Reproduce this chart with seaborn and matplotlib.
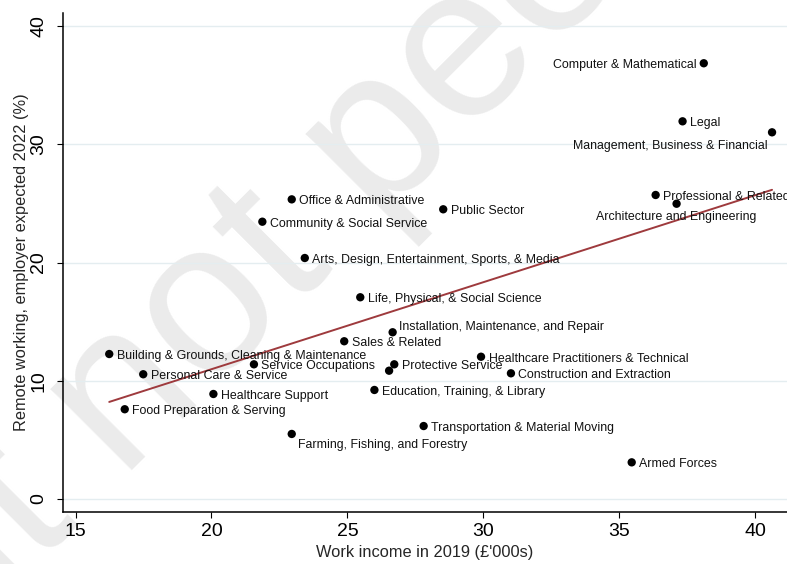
import numpy as np
import pandas as pd
import matplotlib
matplotlib.use("Agg")
import matplotlib.pyplot as plt
import seaborn as sns

# Occupation groups: average work income in 2019 (£'000s) and the share of
# remote working employers expected in 2022 (%)
occupations = [
    "Computer & Mathematical",
    "Legal",
    "Management, Business & Financial",
    "Professional & Related",
    "Architecture and Engineering",
    "Office & Administrative",
    "Public Sector",
    "Community & Social Service",
    "Arts, Design, Entertainment, Sports, & Media",
    "Life, Physical, & Social Science",
    "Installation, Maintenance, and Repair",
    "Sales & Related",
    "Building & Grounds, Cleaning & Maintenance",
    "Service Occupations",
    "Protective Service",
    "",
    "Healthcare Practitioners & Technical",
    "Construction and Extraction",
    "Education, Training, & Library",
    "Transportation & Material Moving",
    "Personal Care & Service",
    "Healthcare Support",
    "Food Preparation & Serving",
    "Farming, Fishing, and Forestry",
    "Armed Forces",
]
income_2019 = [
    38.10, 37.32, 40.61, 36.33, 37.10, 22.95, 28.52, 21.87, 23.43, 25.47,
    26.66, 24.88, 16.24, 21.56, 26.72, 26.53, 29.91, 31.01, 25.99, 27.80,
    17.49, 20.07, 16.81, 22.95, 35.45,
]
remote_2022 = [
    36.85, 31.94, 31.01, 25.71, 24.97, 25.34, 24.50, 23.45, 20.38, 17.06,
    14.10, 13.34, 12.26, 11.39, 11.39, 10.85, 12.03, 10.63, 9.22, 6.17,
    10.55, 8.88, 7.59, 5.50, 3.10,
]

x_ticks = [15, 20, 25, 30, 35, 40]
y_ticks = [0, 10, 20, 30, 40]

# where each marker label sits relative to its point (default: right)
label_side = {
    "Computer & Mathematical": "left",
    "Management, Business & Financial": "below_left",
    "Architecture and Engineering": "below",
    "Installation, Maintenance, and Repair": "upper_right",
    "Farming, Fishing, and Forestry": "lower_right",
}
side_offsets = {
    "right": ((5.4, 0.0), "left"),
    "left": ((-5.5, 0.0), "right"),
    "below_left": ((-2.9, -8.6), "right"),
    "below": ((0.0, -8.6), "center"),
    "upper_right": ((4.7, 5.2), "left"),
    "lower_right": ((4.7, -6.7), "left"),
}
label_drop = -1.3  # nudges label text onto the marker's centre line

sns.set_theme(style="ticks")
plt.rcParams["font.family"] = ["Liberation Sans", "DejaVu Sans"]

df = pd.DataFrame({"occupation": occupations,
                   "income": income_2019,
                   "remote": remote_2022})

W, H = 787, 564
fig = plt.figure(figsize=(W / 100, H / 100), dpi=100)
fig.patch.set_facecolor("white")

# faint diagonal watermark behind the plot
fig.text(402 / W, 1 - 121 / H, "Preprint not peer reviewed",
         fontsize=156, color="#ebebeb", rotation=45,
         ha="center", va="center", rotation_mode="anchor",
         fontweight="normal", zorder=-5)

ax = fig.add_axes([63 / W, 52 / H, (W - 63) / W, (512 - 13) / H])
ax.set_facecolor("none")

sns.regplot(data=df, x="income", y="remote", scatter=False, ci=None,
            ax=ax, line_kws=dict(color="#9e3a3d", lw=1.4, zorder=2))
sns.scatterplot(data=df, x="income", y="remote", ax=ax, color="black",
                s=36, edgecolor="none", zorder=3, legend=False)

for name, xv, yv in zip(occupations, income_2019, remote_2022):
    if not name:
        continue
    (dx, dy), ha = side_offsets[label_side.get(name, "right")]
    ax.annotate(name, (xv, yv), xytext=(dx, dy + label_drop),
                textcoords="offset points",
                ha=ha, va="center", fontsize=8.9, color="#111111",
                annotation_clip=False, zorder=4)

ax.set_xlim(14.54, 41.16)
ax.set_ylim(-1.10, 41.10)
ax.set_xticks(x_ticks)
ax.set_yticks(y_ticks)
ax.set_xticklabels([str(t) for t in x_ticks])
ax.set_yticklabels([str(t) for t in y_ticks], rotation=90, va="center")

ax.yaxis.grid(True, color="#e4edf0", lw=1.0)
ax.xaxis.grid(False)
ax.set_axisbelow(True)

for s in ("top", "right"):
    ax.spines[s].set_visible(False)
for s in ("left", "bottom"):
    ax.spines[s].set_color("black")
    ax.spines[s].set_linewidth(1.1)

ax.tick_params(axis="both", direction="out", length=4.3, width=0.8,
               color="black", labelsize=14, labelcolor="black")
ax.tick_params(axis="x", pad=3.5)
ax.tick_params(axis="y", pad=7)

ax.set_xlabel("Work income in 2019 (£'000s)", fontsize=11.8, labelpad=3.5)
ax.set_ylabel("Remote working, employer expected 2022 (%)", fontsize=11.8,
              labelpad=1)

fig.savefig("out.png", dpi=100, facecolor="white")
